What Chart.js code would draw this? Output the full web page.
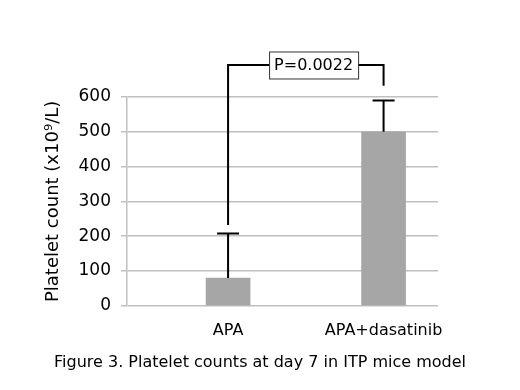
<!DOCTYPE html>
<html>
<head>
<meta charset="utf-8">
<script src="https://cdn.jsdelivr.net/npm/chart.js@4"></script>
<style>
  html, body { margin: 0; padding: 0; background: #fff; }
</style>
</head>
<body>
<canvas id="plateletChart" width="520" height="390"></canvas>
<script>
// data
const categories = ["APA", "APA+dasatinib"];
const xPositions = [1, 2];
const means = [80, 500];
const errUpper = [128, 90];          // SD above the mean
const bracketFrom = [232, 632];      // where the significance bracket starts
const bracketTop = 692;
const pLabel = "P=0.0022";
const caption = "Figure 3. Platelet counts at day 7 in ITP mice model";

const FONT = "'DejaVu Sans', sans-serif";

// error bars + significance bracket drawn through the scales
const annotations = {
  id: "annotations",
  afterDatasetsDraw(chart) {
    const { ctx, scales: { x, y } } = chart;
    ctx.save();
    ctx.strokeStyle = "#000";
    ctx.lineWidth = 2;

    // error bars
    means.forEach((m, i) => {
      const px = x.getPixelForValue(xPositions[i]);
      const top = y.getPixelForValue(m + errUpper[i]);
      ctx.beginPath();
      ctx.moveTo(px, y.getPixelForValue(m));
      ctx.lineTo(px, top);
      ctx.moveTo(px - 11, top);
      ctx.lineTo(px + 11, top);
      ctx.stroke();
    });

    // bracket with p value box
    const x1 = x.getPixelForValue(xPositions[0]);
    const x2 = x.getPixelForValue(xPositions[1]);
    const yTop = y.getPixelForValue(bracketTop);
    ctx.font = "16px " + FONT;
    const tw = ctx.measureText(pLabel).width;
    const boxW = tw + 10, boxH = 27;
    const cx = x.getPixelForValue(1.55);
    const bx = cx - boxW / 2;

    ctx.beginPath();
    ctx.moveTo(x1, y.getPixelForValue(bracketFrom[0]));
    ctx.lineTo(x1, yTop);
    ctx.lineTo(bx, yTop);
    ctx.moveTo(bx + boxW, yTop);
    ctx.lineTo(x2, yTop);
    ctx.lineTo(x2, y.getPixelForValue(bracketFrom[1]));
    ctx.stroke();

    ctx.lineWidth = 1;
    ctx.strokeStyle = "#333";
    ctx.strokeRect(bx + 0.5, yTop - boxH / 2 + 0.5, boxW, boxH);
    ctx.fillStyle = "#000";
    ctx.textAlign = "center";
    ctx.textBaseline = "middle";
    ctx.fillText(pLabel, cx, yTop + 1);
    ctx.restore();
  }
};

new Chart(document.getElementById("plateletChart"), {
  type: "bar",
  data: {
    datasets: [{
      data: xPositions.map((p, i) => ({ x: p, y: means[i] })),
      backgroundColor: "#a6a6a6",
      borderWidth: 0,
      barThickness: 44
    }]
  },
  options: {
    responsive: false,
    animation: false,
    layout: { padding: { left: 0, right: 0, top: 97, bottom: 18 } },
    plugins: {
      legend: { display: false },
      tooltip: { enabled: false },
      title: {
        display: true,
        position: "bottom",
        text: caption,
        color: "#000",
        font: { family: FONT, size: 16, weight: "normal" },
        padding: { top: 0, bottom: 0 }
      }
    },
    scales: {
      x: {
        type: "linear",
        offset: false,
        bounds: "data",
        min: 0.35,
        max: 2.35,
        afterBuildTicks: (scale) => {
          scale.ticks = xPositions.map((v) => ({ value: v }));
        },
        afterFit: (scale) => { scale.height = 47; },
        ticks: {
          autoSkip: false,
          maxRotation: 0,
          color: "#000",
          font: { family: FONT, size: 16 },
          padding: 7,
          callback: (v) => categories[xPositions.indexOf(v)]
        },
        grid: { display: false },
        border: { display: false }
      },
      y: {
        min: 0,
        max: 600,
        afterFit: (scale) => { scale.width = 127; },
        ticks: {
          stepSize: 100,
          color: "#000",
          font: { family: FONT, size: 17 },
          padding: 10
        },
        grid: { color: "#c0c0c0", lineWidth: 1.5, tickLength: 6 },
        border: { color: "#c0c0c0", width: 1.5 },
        title: {
          display: true,
          text: "Platelet count (x10\u2079/L)",
          color: "#000",
          font: { family: FONT, size: 18 },
          padding: { top: 43, bottom: 0 }
        }
      },
      // empty right-hand axis, only reserves the margin
      yRight: {
        position: "right",
        afterFit: (scale) => { scale.width = 82; },
        ticks: { display: false },
        grid: { display: false },
        border: { display: false }
      }
    }
  },
  plugins: [annotations]
});
</script>
</body>
</html>
